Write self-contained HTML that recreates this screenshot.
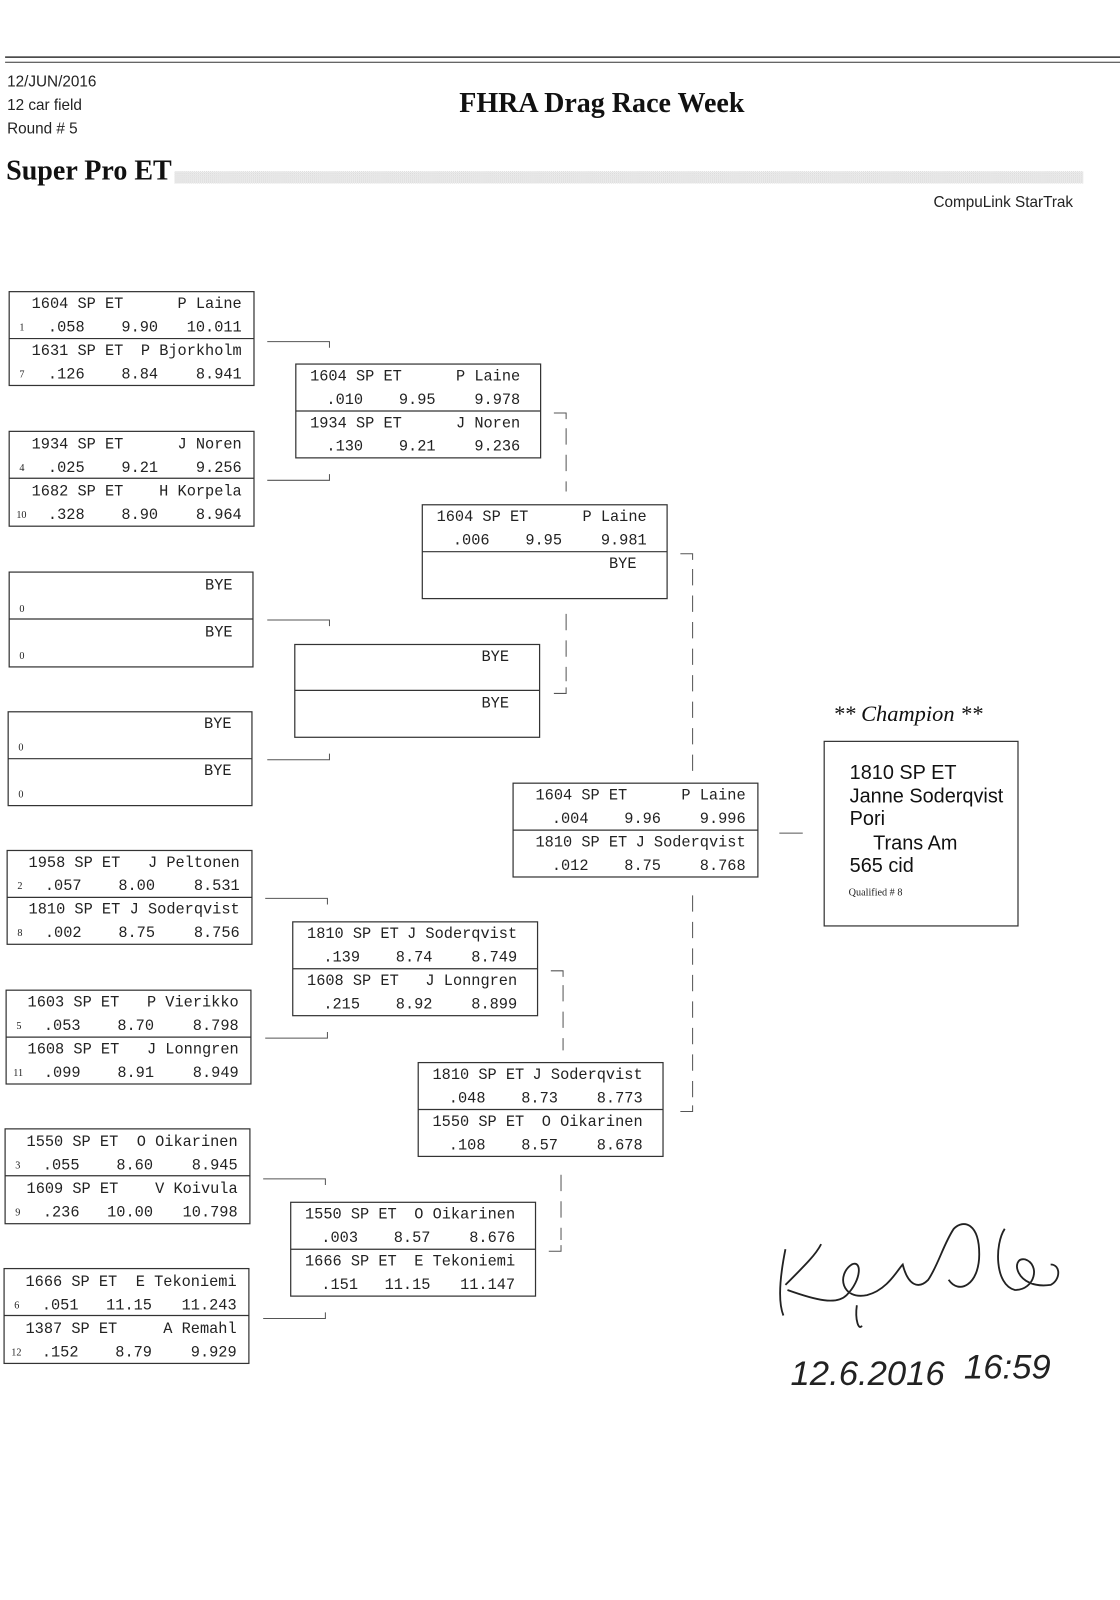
<!DOCTYPE html>
<html><head><meta charset="utf-8"><style>
html,body{margin:0;padding:0;background:#fff;}
svg{display:block;}
.m{font-family:"Liberation Mono",monospace;font-size:15px;fill:#222;}
.s{font-family:"Liberation Serif",serif;font-size:10px;fill:#222;}
.b{fill:none;stroke:#333;stroke-width:1.2;}
.c{fill:none;stroke:#555;stroke-width:1;}
.d{fill:none;stroke:#555;stroke-width:1;stroke-dasharray:16 10;}
</style></head><body>
<svg width="1120" height="1600" viewBox="0 0 1098 1569" preserveAspectRatio="none" xmlns="http://www.w3.org/2000/svg">
<defs><pattern id="dots" width="2" height="2" patternUnits="userSpaceOnUse"><rect width="1" height="1" fill="#999"/><rect x="1" y="1" width="1" height="1" fill="#bbb"/></pattern></defs>
<line x1="5" y1="56" x2="1098" y2="56" stroke="#333" stroke-width="1.5"/>
<line x1="5" y1="61" x2="1098" y2="61" stroke="#333" stroke-width="1"/>
<g font-family="Liberation Sans, sans-serif" font-size="15" fill="#222">
<text x="7" y="85">12/JUN/2016</text><text x="7" y="108">12 car field</text><text x="7" y="131">Round # 5</text>
<text x="1052" y="203" text-anchor="end">CompuLink StarTrak</text>
</g>
<text x="590" y="110" text-anchor="middle" font-family="Liberation Serif, serif" font-weight="bold" font-size="27.5" fill="#111">FHRA Drag Race Week</text>
<text x="6" y="176" font-family="Liberation Serif, serif" font-weight="bold" font-size="27.5" fill="#111">Super Pro ET</text>
<rect x="171" y="168" width="891" height="12" fill="url(#dots)" opacity="0.6"/>

<!-- R1 -->
<g>
<rect class="b" x="9" y="286" width="240" height="92"/><line class="b" x1="9" y1="332" x2="249" y2="332"/>
<text class="m" x="31" y="302">1604 SP ET</text><text class="m" x="237" y="302" text-anchor="end">P Laine</text>
<text class="s" x="19" y="324">1</text><text class="m" x="47" y="325">.058</text><text class="m" x="155" y="325" text-anchor="end">9.90</text><text class="m" x="237" y="325" text-anchor="end">10.011</text>
<text class="m" x="31" y="348">1631 SP ET</text><text class="m" x="237" y="348" text-anchor="end">P Bjorkholm</text>
<text class="s" x="19" y="370">7</text><text class="m" x="47" y="371">.126</text><text class="m" x="155" y="371" text-anchor="end">8.84</text><text class="m" x="237" y="371" text-anchor="end">8.941</text>
</g>
<g>
<rect class="b" x="9" y="423" width="240" height="93"/><line class="b" x1="9" y1="469" x2="249" y2="469"/>
<text class="m" x="31" y="440">1934 SP ET</text><text class="m" x="237" y="440" text-anchor="end">J Noren</text>
<text class="s" x="19" y="462">4</text><text class="m" x="47" y="463">.025</text><text class="m" x="155" y="463" text-anchor="end">9.21</text><text class="m" x="237" y="463" text-anchor="end">9.256</text>
<text class="m" x="31" y="486">1682 SP ET</text><text class="m" x="237" y="486" text-anchor="end">H Korpela</text>
<text class="s" x="16" y="508">10</text><text class="m" x="47" y="509">.328</text><text class="m" x="155" y="509" text-anchor="end">8.90</text><text class="m" x="237" y="509" text-anchor="end">8.964</text>
</g>
<g>
<rect class="b" x="9" y="561" width="239" height="93"/><line class="b" x1="9" y1="607" x2="248" y2="607"/>
<text class="m" x="228" y="578" text-anchor="end">BYE</text><text class="s" x="19" y="600">0</text>
<text class="m" x="228" y="624" text-anchor="end">BYE</text><text class="s" x="19" y="646">0</text>
</g>
<g>
<rect class="b" x="8" y="698" width="239" height="92"/><line class="b" x1="8" y1="744" x2="247" y2="744"/>
<text class="m" x="227" y="714" text-anchor="end">BYE</text><text class="s" x="18" y="736">0</text>
<text class="m" x="227" y="760" text-anchor="end">BYE</text><text class="s" x="18" y="782">0</text>
</g>
<g>
<rect class="b" x="7" y="834" width="240" height="92"/><line class="b" x1="7" y1="880" x2="247" y2="880"/>
<text class="m" x="28" y="850">1958 SP ET</text><text class="m" x="235" y="850" text-anchor="end">J Peltonen</text>
<text class="s" x="17" y="872">2</text><text class="m" x="44" y="873">.057</text><text class="m" x="152" y="873" text-anchor="end">8.00</text><text class="m" x="235" y="873" text-anchor="end">8.531</text>
<text class="m" x="28" y="896">1810 SP ET</text><text class="m" x="235" y="896" text-anchor="end">J Soderqvist</text>
<text class="s" x="17" y="918">8</text><text class="m" x="44" y="919">.002</text><text class="m" x="152" y="919" text-anchor="end">8.75</text><text class="m" x="235" y="919" text-anchor="end">8.756</text>
</g>
<g>
<rect class="b" x="6" y="971" width="240" height="92"/><line class="b" x1="6" y1="1017" x2="246" y2="1017"/>
<text class="m" x="27" y="987">1603 SP ET</text><text class="m" x="234" y="987" text-anchor="end">P Vierikko</text>
<text class="s" x="16" y="1009">5</text><text class="m" x="43" y="1010">.053</text><text class="m" x="151" y="1010" text-anchor="end">8.70</text><text class="m" x="234" y="1010" text-anchor="end">8.798</text>
<text class="m" x="27" y="1033">1608 SP ET</text><text class="m" x="234" y="1033" text-anchor="end">J Lonngren</text>
<text class="s" x="13" y="1055">11</text><text class="m" x="43" y="1056">.099</text><text class="m" x="151" y="1056" text-anchor="end">8.91</text><text class="m" x="234" y="1056" text-anchor="end">8.949</text>
</g>
<g>
<rect class="b" x="5" y="1107" width="240" height="93"/><line class="b" x1="5" y1="1153" x2="245" y2="1153"/>
<text class="m" x="26" y="1124">1550 SP ET</text><text class="m" x="233" y="1124" text-anchor="end">O Oikarinen</text>
<text class="s" x="15" y="1146">3</text><text class="m" x="42" y="1147">.055</text><text class="m" x="150" y="1147" text-anchor="end">8.60</text><text class="m" x="233" y="1147" text-anchor="end">8.945</text>
<text class="m" x="26" y="1170">1609 SP ET</text><text class="m" x="233" y="1170" text-anchor="end">V Koivula</text>
<text class="s" x="15" y="1192">9</text><text class="m" x="42" y="1193">.236</text><text class="m" x="150" y="1193" text-anchor="end">10.00</text><text class="m" x="233" y="1193" text-anchor="end">10.798</text>
</g>
<g>
<rect class="b" x="4" y="1244" width="240" height="93"/><line class="b" x1="4" y1="1290" x2="244" y2="1290"/>
<text class="m" x="25" y="1261">1666 SP ET</text><text class="m" x="232" y="1261" text-anchor="end">E Tekoniemi</text>
<text class="s" x="14" y="1283">6</text><text class="m" x="41" y="1284">.051</text><text class="m" x="149" y="1284" text-anchor="end">11.15</text><text class="m" x="232" y="1284" text-anchor="end">11.243</text>
<text class="m" x="25" y="1307">1387 SP ET</text><text class="m" x="232" y="1307" text-anchor="end">A Remahl</text>
<text class="s" x="11" y="1329">12</text><text class="m" x="41" y="1330">.152</text><text class="m" x="149" y="1330" text-anchor="end">8.79</text><text class="m" x="232" y="1330" text-anchor="end">9.929</text>
</g>

<!-- R2 -->
<g>
<rect class="b" x="290" y="357" width="240" height="92"/><line class="b" x1="290" y1="403" x2="530" y2="403"/>
<text class="m" x="304" y="373">1604 SP ET</text><text class="m" x="510" y="373" text-anchor="end">P Laine</text>
<text class="m" x="320" y="396">.010</text><text class="m" x="427" y="396" text-anchor="end">9.95</text><text class="m" x="510" y="396" text-anchor="end">9.978</text>
<text class="m" x="304" y="419">1934 SP ET</text><text class="m" x="510" y="419" text-anchor="end">J Noren</text>
<text class="m" x="320" y="442">.130</text><text class="m" x="427" y="442" text-anchor="end">9.21</text><text class="m" x="510" y="442" text-anchor="end">9.236</text>
</g>
<g>
<rect class="b" x="289" y="632" width="240" height="91"/><line class="b" x1="289" y1="677" x2="529" y2="677"/>
<text class="m" x="499" y="648" text-anchor="end">BYE</text><text class="m" x="499" y="694" text-anchor="end">BYE</text>
</g>
<g>
<rect class="b" x="287" y="904" width="240" height="92"/><line class="b" x1="287" y1="950" x2="527" y2="950"/>
<text class="m" x="301" y="920">1810 SP ET</text><text class="m" x="507" y="920" text-anchor="end">J Soderqvist</text>
<text class="m" x="317" y="943">.139</text><text class="m" x="424" y="943" text-anchor="end">8.74</text><text class="m" x="507" y="943" text-anchor="end">8.749</text>
<text class="m" x="301" y="966">1608 SP ET</text><text class="m" x="507" y="966" text-anchor="end">J Lonngren</text>
<text class="m" x="317" y="989">.215</text><text class="m" x="424" y="989" text-anchor="end">8.92</text><text class="m" x="507" y="989" text-anchor="end">8.899</text>
</g>
<g>
<rect class="b" x="285" y="1179" width="240" height="92"/><line class="b" x1="285" y1="1225" x2="525" y2="1225"/>
<text class="m" x="299" y="1195">1550 SP ET</text><text class="m" x="505" y="1195" text-anchor="end">O Oikarinen</text>
<text class="m" x="315" y="1218">.003</text><text class="m" x="422" y="1218" text-anchor="end">8.57</text><text class="m" x="505" y="1218" text-anchor="end">8.676</text>
<text class="m" x="299" y="1241">1666 SP ET</text><text class="m" x="505" y="1241" text-anchor="end">E Tekoniemi</text>
<text class="m" x="315" y="1264">.151</text><text class="m" x="422" y="1264" text-anchor="end">11.15</text><text class="m" x="505" y="1264" text-anchor="end">11.147</text>
</g>

<!-- R3 -->
<g>
<rect class="b" x="414" y="495" width="240" height="92"/><line class="b" x1="414" y1="541" x2="654" y2="541"/>
<text class="m" x="428" y="511">1604 SP ET</text><text class="m" x="634" y="511" text-anchor="end">P Laine</text>
<text class="m" x="444" y="534">.006</text><text class="m" x="551" y="534" text-anchor="end">9.95</text><text class="m" x="634" y="534" text-anchor="end">9.981</text>
<text class="m" x="624" y="557" text-anchor="end">BYE</text>
</g>
<g>
<rect class="b" x="410" y="1042" width="240" height="92"/><line class="b" x1="410" y1="1088" x2="650" y2="1088"/>
<text class="m" x="424" y="1058">1810 SP ET</text><text class="m" x="630" y="1058" text-anchor="end">J Soderqvist</text>
<text class="m" x="440" y="1081">.048</text><text class="m" x="547" y="1081" text-anchor="end">8.73</text><text class="m" x="630" y="1081" text-anchor="end">8.773</text>
<text class="m" x="424" y="1104">1550 SP ET</text><text class="m" x="630" y="1104" text-anchor="end">O Oikarinen</text>
<text class="m" x="440" y="1127">.108</text><text class="m" x="547" y="1127" text-anchor="end">8.57</text><text class="m" x="630" y="1127" text-anchor="end">8.678</text>
</g>

<!-- Final -->
<g>
<rect class="b" x="503" y="768" width="240" height="92"/><line class="b" x1="503" y1="814" x2="743" y2="814"/>
<text class="m" x="525" y="784">1604 SP ET</text><text class="m" x="731" y="784" text-anchor="end">P Laine</text>
<text class="m" x="541" y="807">.004</text><text class="m" x="648" y="807" text-anchor="end">9.96</text><text class="m" x="731" y="807" text-anchor="end">9.996</text>
<text class="m" x="525" y="830">1810 SP ET</text><text class="m" x="731" y="830" text-anchor="end">J Soderqvist</text>
<text class="m" x="541" y="853">.012</text><text class="m" x="648" y="853" text-anchor="end">8.75</text><text class="m" x="731" y="853" text-anchor="end">8.768</text>
</g>

<path class="c" d="M262 335H323V341 M262 471H323V465 M262 608H323V614 M262 745H323V739 M260 881H321V887 M260 1018H321V1012 M258 1156H319V1162 M258 1293H319V1287"/>
<path class="c" d="M543 405H555V411 M543 680H555V674 M540 952H552V958 M538 1227H550V1221"/>
<path class="d" d="M555 420V482 M555 602V668 M552 966V1030 M550 1152V1216"/>
<path class="c" d="M667 543H679V549 M667 1090H679V1084"/>
<path class="d" d="M679 558V756 M679 878V1078"/>
<line class="c" x1="764" y1="817" x2="787" y2="817"/>

<text x="890" y="707" text-anchor="middle" font-family="Liberation Serif, serif" font-style="italic" font-size="22" fill="#111">** Champion **</text>
<rect class="b" x="808" y="727" width="190" height="181"/>
<g font-family="Liberation Sans, sans-serif" font-size="19.5" fill="#111">
<text x="833" y="764">1810  SP ET</text><text x="833" y="787">Janne Soderqvist</text><text x="833" y="809">Pori</text>
<text x="856" y="833">Trans Am</text><text x="833" y="855">565 cid</text>
</g>
<text x="832" y="878" font-family="Liberation Serif, serif" font-size="10" fill="#222">Qualified # 8</text>

<g fill="none" stroke="#222" stroke-width="1.8">
<path d="M770 1225C765 1250 762 1275 768 1290 M770 1260C790 1240 800 1230 805 1220 M772 1265C800 1275 820 1280 830 1270C845 1255 845 1235 835 1240C820 1250 825 1275 850 1270C870 1265 880 1245 885 1240C890 1260 900 1265 910 1255C920 1240 925 1220 935 1205C945 1195 960 1200 960 1230C960 1260 940 1270 930 1255 M985 1205C975 1220 975 1260 995 1265C1015 1265 1020 1240 1005 1235C990 1232 995 1265 1030 1260C1040 1255 1040 1240 1030 1240"/>
<path d="M840 1280C838 1295 842 1305 845 1300"/>
</g>
<text x="775" y="1358" font-family="Liberation Sans, sans-serif" font-style="italic" font-size="34" fill="#222">12.6.2016</text>
<text x="945" y="1352" font-family="Liberation Sans, sans-serif" font-style="italic" font-size="34" fill="#222">16:59</text>
</svg>
</body></html>
